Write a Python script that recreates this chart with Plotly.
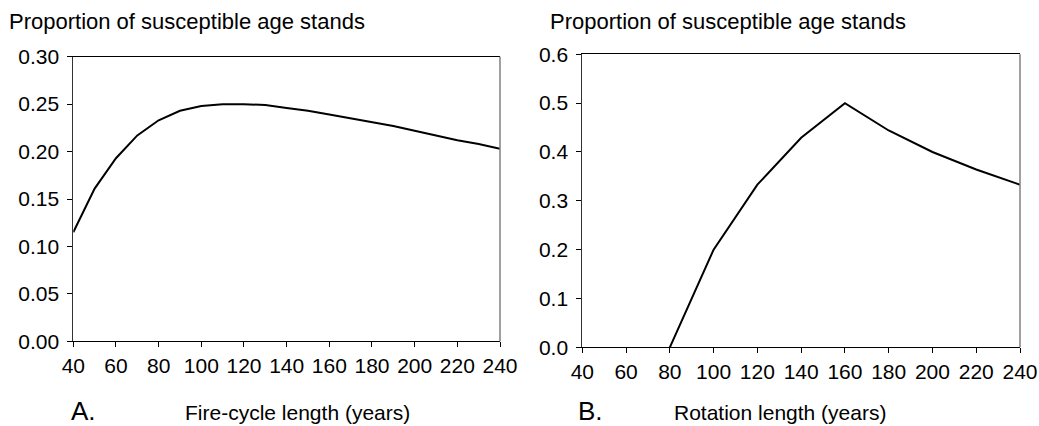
import plotly.graph_objects as go
from plotly.subplots import make_subplots

# panel A: fire-cycle length vs proportion of susceptible age stands
fire_cycle = [40, 50, 60, 70, 80, 90, 100, 110, 120, 130, 140, 150,
              160, 170, 180, 190, 200, 210, 220, 230, 240]
prop_fire = [0.115, 0.161, 0.193, 0.217, 0.233, 0.243, 0.248, 0.250, 0.250,
             0.249, 0.246, 0.243, 0.239, 0.235, 0.231, 0.227, 0.222, 0.217,
             0.212, 0.208, 0.203]

# panel B: rotation length
rotation = [80, 100, 120, 140, 160, 180, 200, 220, 240]
prop_rot = [0.0, 0.2, 0.333, 0.429, 0.5, 0.444, 0.4, 0.364, 0.333]

x_ticks = list(range(40, 241, 20))
y_ticks_a = [0.0, 0.05, 0.10, 0.15, 0.20, 0.25, 0.30]
y_ticks_b = [0.0, 0.1, 0.2, 0.3, 0.4, 0.5, 0.6]

FONT = "Liberation Sans, Arial, sans-serif"
W, H = 1039, 426

fig = make_subplots(rows=1, cols=2)

fig.add_trace(go.Scatter(x=fire_cycle, y=prop_fire, mode="lines",
                         line=dict(color="black", width=2), showlegend=False),
              row=1, col=1)
fig.add_trace(go.Scatter(x=rotation, y=prop_rot, mode="lines",
                         line=dict(color="black", width=2), showlegend=False),
              row=1, col=2)

xcommon = dict(
    range=[40, 240], tickmode="array", tickvals=x_ticks, automargin=False,
    showline=True, linecolor="black", linewidth=1, mirror=True,
    ticks="outside", ticklen=5, tickcolor="black", showgrid=False,
    zeroline=False, tickfont=dict(size=21, color="black", family=FONT),
)
ycommon = dict(
    showline=True, linecolor="#333333", linewidth=1, automargin=False,
    ticks="outside", ticklen=5, tickcolor="black", showgrid=False,
    ticklabelstandoff=4,
    zeroline=False, tickfont=dict(size=21, color="black", family=FONT),
)

fig.update_layout(
    template="none",
    xaxis=dict(domain=[73.3 / W, 500 / W], **xcommon),
    xaxis2=dict(domain=[582.3 / W, 1020 / W], **xcommon),
    yaxis=dict(domain=[1 - 341.3 / H, 1 - 56.7 / H], range=[0, 0.30],
               tickmode="array", tickvals=y_ticks_a,
               ticktext=[f"{v:.2f}" for v in y_ticks_a], **ycommon),
    yaxis2=dict(domain=[1 - 347.3 / H, 1 - 54.3 / H], range=[0, 0.6],
                tickmode="array", tickvals=y_ticks_b,
                ticktext=[f"{v:.1f}" for v in y_ticks_b], **ycommon),
    width=W, height=H,
    margin=dict(l=0, r=0, t=0, b=0),
    paper_bgcolor="white", plot_bgcolor="white",
    font=dict(family=FONT, color="black"),
)

# gray right border of each plot area
for xr, yr in [("x domain", "y domain"), ("x2 domain", "y2 domain")]:
    fig.add_shape(type="line", xref=xr, yref=yr, x0=1, x1=1, y0=0, y1=1,
                  line=dict(color="#808080", width=1.5))

texts = [
    ("Proportion of susceptible age stands", 7 / W, 1 - 21 / H, "left", 22),
    ("Proportion of susceptible age stands", 548 / W, 1 - 21 / H, "left", 22),
    ("Fire-cycle length (years)", 297 / W, 1 - 412 / H, "center", 21),
    ("Rotation length (years)", 780 / W, 1 - 412 / H, "center", 21),
    ("A.", 69 / W, 1 - 411 / H, "left", 26),
    ("B.", 576 / W, 1 - 411 / H, "left", 26),
]
for txt, x, y, anchor, size in texts:
    fig.add_annotation(text=txt, x=x, y=y, xref="paper", yref="paper",
                       xanchor=anchor, yanchor="middle", showarrow=False,
                       font=dict(size=size, family=FONT, color="black"))

# drop the default page margin so the figure sits at the window's corner
fig.write_html("out.html", config={"displayModeBar": False},
               post_script="document.body.style.margin = '0';")
